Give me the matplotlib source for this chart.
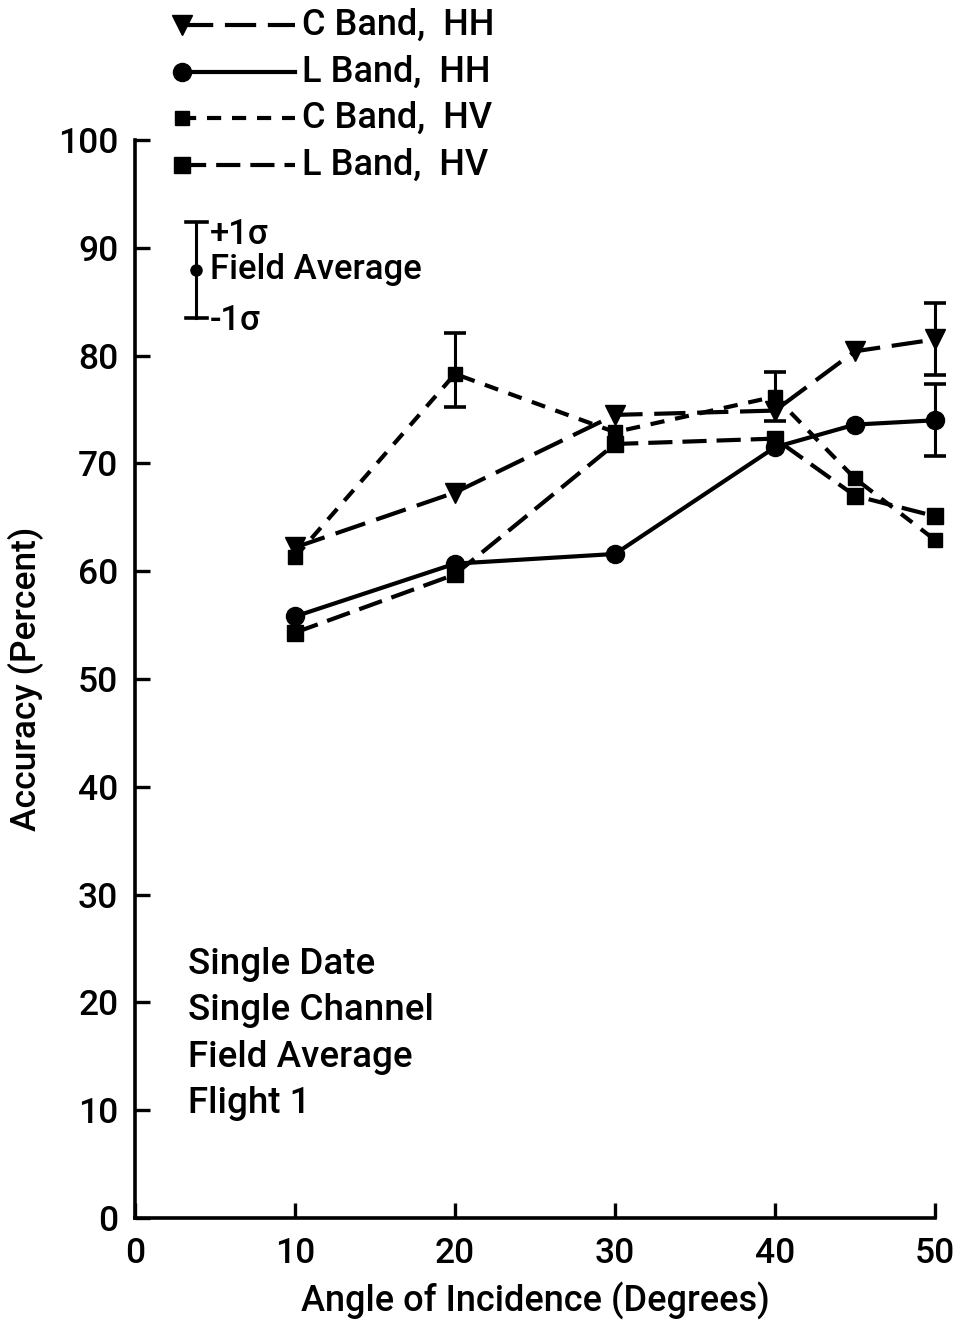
import matplotlib
matplotlib.use("Agg")
import matplotlib.pyplot as plt
from matplotlib.lines import Line2D
import numpy as np

plt.rcParams['font.family'] = ['Roboto', 'DejaVu Sans']
plt.rcParams['font.weight'] = 'medium'
plt.rcParams['axes.labelweight'] = 'medium'

# incidence angles (degrees)
angles = [10, 20, 30, 40, 45, 50]

# classification accuracy (percent), field averages
c_band_hh = [62.2, 67.3, 74.5, 74.9, 80.4, 81.5]
l_band_hh = [55.8, 60.7, 61.6, 71.5, 73.6, 74.0]
c_band_hv = [61.3, 78.3, 72.9, 76.2, 68.6, 62.9]
l_band_hv = [54.3, 59.7, 71.8, 72.3, 67.0, 65.1]

# +/- 1 sigma bars: (angle, mean, low, high)
err_c_hv = ([20, 40], [78.3, 76.2], [75.2, 73.9], [82.1, 78.5])
err_c_hh = ([50], [81.5], [78.2], [84.9])
err_l_hh = ([50], [74.0], [70.7], [77.4])

notes = "Single Date\nSingle Channel\nField Average\nFlight 1"

W, H = 958, 1326
fig = plt.figure(figsize=(W / 100, H / 100), dpi=100)
ax = fig.add_axes([135 / W, 1 - 1218 / H, 800 / W, 1078 / H])

LW = 3.0
styles = {
    "C Band,  HH": dict(y=c_band_hh, ls=(0, (7.5, 2.8)), marker="v", ms=14),
    "L Band,  H!H": dict(y=l_band_hh, ls="-", marker="o", ms=13),
    "C Band,  HV": dict(y=c_band_hv, ls=(0, (3.4, 2.6)), marker="s", ms=9.5),
    "L Band,  HV": dict(y=l_band_hv, ls=(0, (5.8, 2.4)), marker="s", ms=11),
}

for name, st in styles.items():
    ax.plot(angles, st["y"], color="black", lw=LW, linestyle=st["ls"],
            marker=st["marker"], ms=st["ms"], clip_on=False)

for xs, ys, lo, hi in (err_c_hv, err_c_hh, err_l_hh):
    ys = np.array(ys)
    yerr = [ys - np.array(lo), np.array(hi) - ys]
    ax.errorbar(xs, ys, yerr=yerr, fmt="none", ecolor="black",
                elinewidth=2.2, capsize=8, capthick=2.6, clip_on=False)

ax.set_xlim(0, 50)
ax.set_ylim(0, 100)
ax.set_xticks(range(0, 51, 10))
ax.set_yticks(range(0, 101, 10))
for side in ("top", "right"):
    ax.spines[side].set_visible(False)
for side in ("left", "bottom"):
    ax.spines[side].set_linewidth(2.6)
ax.tick_params(direction="in", length=11, width=2.4, labelsize=25.5, pad=12)
ax.tick_params(axis="x", pad=14)
ax.set_xlabel("Angle of Incidence (Degrees)", fontsize=26, labelpad=8)
ax.set_ylabel("Accuracy (Percent)", fontsize=25.5, labelpad=10)

ax.text(188 / W, 1 - 947 / H, notes, transform=fig.transFigure,
        fontsize=26.5, va="top", ha="left", linespacing=1.42)


# legend drawn in figure pixels so the marker sits at the left end
def fx(px):
    return px / W


def fy(py):
    return 1 - py / H


rows = [25, 72, 118, 165]
for (name, st), py in zip(styles.items(), rows):
    fig.add_artist(Line2D([fx(182), fx(295)], [fy(py), fy(py)],
                          transform=fig.transFigure, color="black", lw=LW,
                          linestyle=st["ls"], marker=st["marker"],
                          ms=st["ms"], markevery=[0]))
    fig.text(fx(302), fy(py), name.replace("!", ""), fontsize=26,
             va="center", ha="left")

# +/- 1 sigma key
fig.add_artist(Line2D([fx(196), fx(196)], [fy(222), fy(318)],
                      transform=fig.transFigure, color="black", lw=2.2))
for py in (222, 318):
    fig.add_artist(Line2D([fx(186), fx(207)], [fy(py), fy(py)],
                          transform=fig.transFigure, color="black", lw=2.6))
fig.add_artist(Line2D([fx(196)], [fy(270)], transform=fig.transFigure,
                      color="black", marker="o", ms=8, lw=0))
fig.text(fx(210), fy(234), "+1\u03c3", fontsize=25, va="center", ha="left")
fig.text(fx(210), fy(270), "Field Average", fontsize=25, va="center", ha="left")
fig.text(fx(210), fy(320), "-1\u03c3", fontsize=25, va="center", ha="left")

fig.savefig("out.png", dpi=100)
